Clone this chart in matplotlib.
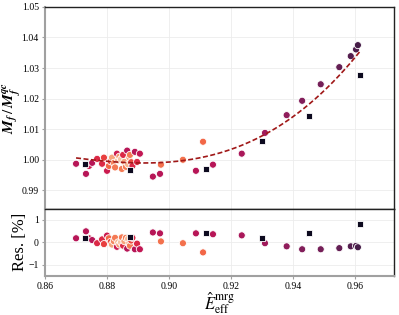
import numpy as np
import matplotlib
matplotlib.use('Agg')
import matplotlib.pyplot as plt
import seaborn as sns

plt.rcParams['font.family'] = ['Liberation Serif', 'DejaVu Serif']
plt.rcParams['mathtext.fontset'] = 'stix'

# =====数据 (circles: E_eff, M_f/M_f^qc, residual [%], colour value on rocket)
e_circ = [0.8700, 0.8732, 0.8742, 0.8752, 0.8768, 0.8784, 0.8790, 0.8800, 0.8806, 0.8812,
          0.8816, 0.8822, 0.8826, 0.8832, 0.8836, 0.8840, 0.8845, 0.8848, 0.8852, 0.8856,
          0.8861, 0.8865, 0.8868, 0.8872, 0.8874, 0.8878, 0.8882, 0.8890, 0.8897, 0.8906,
          0.8948, 0.8971, 0.8974, 0.9045, 0.9087, 0.9110, 0.9142, 0.9235, 0.9310, 0.9380,
          0.9430, 0.9490, 0.9550, 0.9587, 0.9604, 0.9610]
m_circ = [0.9987, 0.9954, 0.9980, 0.9990, 1.0003, 0.9987, 1.0007, 0.9964, 0.9980, 0.9995,
          1.0007, 0.9990, 0.9975, 1.0020, 0.9998, 1.0010, 1.0002, 0.9970, 1.0016, 0.9993,
          0.9977, 1.0030, 0.9985, 1.0008, 1.0016, 0.9992, 0.9980, 1.0026, 0.9993, 1.0020,
          0.9945, 0.9954, 0.9984, 1.0000, 0.9964, 1.0059, 0.9984, 1.0020, 1.0088, 1.0146,
          1.0193, 1.0247, 1.0303, 1.0339, 1.0361, 1.0375]
r_circ = [0.18, 0.49, 0.18, 0.10, -0.04, 0.13, -0.08, 0.30, 0.18, 0.02,
          -0.10, 0.05, 0.20, -0.20, 0.00, -0.10, 0.00, 0.22, -0.15, 0.05,
          0.20, -0.28, 0.15, -0.05, -0.15, 0.08, 0.20, -0.31, -0.06, -0.31,
          0.44, 0.40, 0.04, -0.04, 0.40, -0.45, 0.36, 0.31, -0.04, -0.18,
          -0.31, -0.31, -0.26, -0.18, -0.16, -0.22]
c_circ = [0.45, 0.45, 0.50, 0.45, 0.55, 0.55, 0.60, 0.50, 0.68, 0.62,
          0.82, 0.75, 0.72, 0.50, 0.86, 0.78, 0.90, 0.72, 0.55, 0.82,
          0.72, 0.45, 0.86, 0.80, 0.72, 0.62, 0.55, 0.45, 0.55, 0.48,
          0.45, 0.45, 0.70, 0.70, 0.45, 0.68, 0.45, 0.42, 0.40, 0.36,
          0.33, 0.30, 0.26, 0.22, 0.20, 0.18]

# black squares
e_sq = [0.8729, 0.8874, 0.9120, 0.9300, 0.9452, 0.9616]
m_sq = [0.9987, 0.9967, 0.9970, 1.0062, 1.0143, 1.0277]
r_sq = [0.18, 0.22, 0.40, 0.18, 0.40, 0.80]

# fitted curve, points
curve_e = [0.870, 0.885, 0.900, 0.910, 0.930, 0.945, 0.962]
curve_m = [1.0007, 0.9990, 0.9990, 1.0010, 1.0080, 1.0176, 1.0360]

cmap = matplotlib.colormaps['rocket']

fig = plt.figure(figsize=(3.99, 3.15), dpi=100)
gs = fig.add_gridspec(2, 1, height_ratios=[3, 1], hspace=0,
                      left=0.113, right=0.987, top=0.978, bottom=0.124)
ax1 = fig.add_subplot(gs[0])
ax2 = fig.add_subplot(gs[1], sharex=ax1)

coef = np.polyfit(curve_e, curve_m, 3)
xx = np.linspace(min(curve_e), max(curve_e), 200)

for ax, yc, ys in [(ax1, m_circ, m_sq), (ax2, r_circ, r_sq)]:
    ax.grid(True, color='#ececec', lw=0.6)
    ax.set_axisbelow(True)
    ax.scatter(e_circ, yc, s=26, c=[cmap(v) for v in c_circ], edgecolors='white',
               linewidths=0.6, zorder=3)
    ax.scatter(e_sq, ys, s=20, marker='s', c='#0d0a1f', edgecolors='white',
               linewidths=0.6, zorder=4)
    for side in ['left', 'bottom']:
        ax.spines[side].set_color('#a0a0a0')
        ax.spines[side].set_linewidth(1.5)
    for side in ['top', 'right']:
        ax.spines[side].set_color('#222222')
        ax.spines[side].set_linewidth(1.0)
    ax.tick_params(labelsize=7, length=2.5, width=0.8, color='#a0a0a0', pad=2)

ax1.plot(xx, np.polyval(coef, xx), ls='--', color='#a01818', lw=1.2, zorder=5,
         dashes=(3, 1.5))

ax1.set_xlim(0.86, 0.9726)
ax1.set_ylim(0.984, 1.05)
ax1.set_yticks([0.99, 1.00, 1.01, 1.02, 1.03, 1.04, 1.05])
ax1.tick_params(labelbottom=False, bottom=False)
ax1.spines['bottom'].set_color('#222222')
ax1.spines['bottom'].set_linewidth(1.0)
ax1.set_ylabel(r'$\mathbfit{M}_{\mathbfit{f}}\,/\,\mathbfit{M}_{\mathbfit{f}}^{\mathbfit{qc}}$',
               fontsize=11)
ax1.yaxis.set_label_coords(-0.062, 0.5)

ax2.set_ylim(-1.5, 1.5)
ax2.set_yticks([-1, 0, 1])
ax2.set_xticks([0.86, 0.88, 0.90, 0.92, 0.94, 0.96])
ax2.set_ylabel('Res. [%]', fontsize=12)
ax2.yaxis.set_label_coords(-0.05, 0.5)
ax2.set_xlabel(r'$\hat{E}_{\rm eff}^{\rm mrg}$', fontsize=12, labelpad=-1)

fig.savefig('out.png', dpi=100)
